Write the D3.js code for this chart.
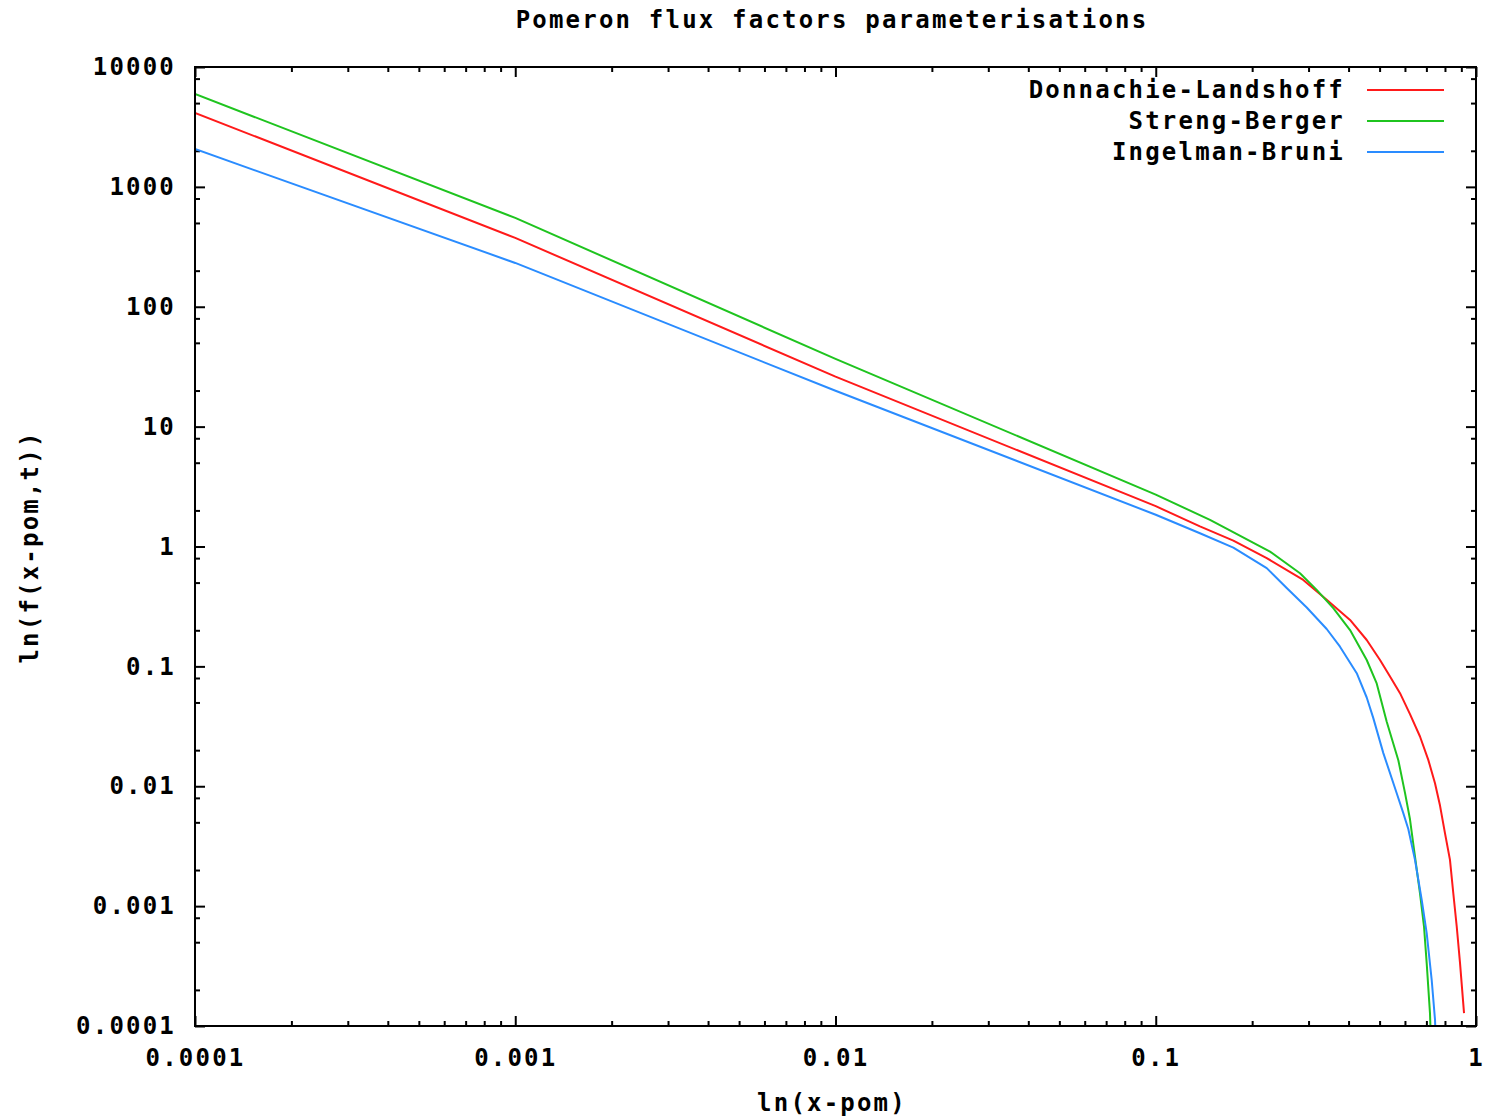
<!DOCTYPE html>
<html>
<head>
<meta charset="utf-8">
<script src="https://cdn.jsdelivr.net/npm/d3@7"></script>
<style>
	body { margin: 0; background: #fff; }
	text { font-family: "DejaVu Sans Mono", monospace; font-weight: bold; fill: #000; }
</style>
</head>
<body>
<div id="idContent"></div>
<script>
// values (x = x-pom, y = flux)
var aDlX = [0.0001, 0.001, 0.01, 0.1, 0.1374, 0.1747, 0.2221, 0.2888, 0.3418, 0.4043, 0.4558, 0.5015, 0.5389, 0.5791, 0.6221, 0.6685, 0.7096, 0.7447, 0.7720, 0.8000, 0.8293, 0.8494, 0.8706, 0.8915, 0.9175];
var aDlY = [4140, 375, 26.1, 2.17, 1.47, 1.12, 0.80, 0.526, 0.359, 0.244, 0.166, 0.113, 0.0822, 0.0598, 0.0400, 0.0260, 0.0166, 0.0106, 0.0069, 0.00406, 0.00243, 0.00128, 0.000676, 0.000335, 0.000128];

var aSbX = [0.0001, 0.001, 0.01, 0.1, 0.1477, 0.2274, 0.2821, 0.3181, 0.3584, 0.4043, 0.4558, 0.4897, 0.5263, 0.5721, 0.6002, 0.6221, 0.6449, 0.6685, 0.6881, 0.7015, 0.7183, 0.7205];
var aSbY = [5960, 551, 36.7, 2.71, 1.667, 0.906, 0.598, 0.435, 0.306, 0.201, 0.113, 0.072, 0.0345, 0.0165, 0.0088, 0.0053, 0.00259, 0.00128, 0.000676, 0.000335, 0.000128, 0.0001];

var aIbX = [0.0001, 0.001, 0.01, 0.1, 0.1374, 0.1747, 0.2221, 0.2564, 0.2961, 0.3418, 0.3761, 0.4242, 0.4558, 0.4779, 0.5136, 0.5655, 0.5929, 0.6146, 0.6449, 0.6767, 0.7015, 0.7271, 0.7447, 0.746];
var aIbY = [2070, 232, 19.9, 1.84, 1.29, 0.98, 0.66, 0.45, 0.31, 0.205, 0.146, 0.0877, 0.055, 0.037, 0.0189, 0.00875, 0.00597, 0.0044, 0.00243, 0.00113, 0.000596, 0.000243, 0.000113, 0.0001];

var aSeriesNames = ["Donnachie-Landshoff", "Streng-Berger", "Ingelman-Bruni"];
var aXTicks = [0.0001, 0.001, 0.01, 0.1, 1];
var aXTickLabels = ["0.0001", "0.001", "0.01", "0.1", "1"];
var aYTicks = [0.0001, 0.001, 0.01, 0.1, 1, 10, 100, 1000, 10000];
var aYTickLabels = ["0.0001", "0.001", "0.01", "0.1", "1", "10", "100", "1000", "10000"];
var aXMinorSteps = [2, 3, 4, 5, 6, 7, 8, 9];
var aYMinorSteps = [2, 5, 8];

var sTitle = "Pomeron flux factors parameterisations",
	sXLabel = "ln(x-pom)",
	sYLabel = "ln(f(x-pom,t))";

var aColors = ["#ff1a1a", "#1fc41f", "#2a8cff"];

function zip(aX, aY) {
	return aX.map(function (x, i) { return { x: x, y: aY[i] }; });
}

function minorTicks(aMajor, aSteps) {
	var aMinor = [];
	aMajor.slice(0, -1).forEach(function (m) {
		aSteps.forEach(function (s) { aMinor.push(m * s); });
	});
	return aMinor;
}

function createGraph() {
	var width = 1491, height = 1118;
	var margin = { top: 67, right: 15, bottom: 92, left: 195 };
	var w = width - margin.left - margin.right,
		h = height - margin.top - margin.bottom;

	var svg = d3.select("#idContent").append("svg")
		.attr("width", width)
		.attr("height", height);

	var x = d3.scaleLog().domain([0.0001, 1]).range([margin.left, margin.left + w]);
	var y = d3.scaleLog().domain([0.0001, 10000]).range([margin.top + h, margin.top]);

	var fmtX = function (d) { return aXTickLabels[aXTicks.indexOf(d)]; };
	var fmtY = function (d) { return aYTickLabels[aYTicks.indexOf(d)]; };
	var xMinor = minorTicks(aXTicks, aXMinorSteps);
	var yMinor = minorTicks(aYTicks, aYMinorSteps);

	// clip for the curves
	svg.append("clipPath").attr("id", "clip")
		.append("rect")
		.attr("x", margin.left).attr("y", margin.top)
		.attr("width", w).attr("height", h);

	// axes, ticks point inwards on every side
	function addAxis(axis, tx, ty, bLabels) {
		var g = svg.append("g")
			.attr("transform", "translate(" + tx + "," + ty + ")")
			.call(axis);
		g.select(".domain").remove();
		g.selectAll(".tick line").attr("stroke", "#000").attr("stroke-width", 2);
		g.selectAll(".tick text").style("font-size", "24px").style("letter-spacing", "2.2px");
		if (!bLabels) g.selectAll(".tick text").remove();
		return g;
	}

	addAxis(d3.axisBottom(x).tickValues(aXTicks).tickFormat(fmtX).tickSize(-10).tickPadding(23), 0, margin.top + h, true);
	addAxis(d3.axisBottom(x).tickValues(xMinor).tickSize(-5), 0, margin.top + h, false);
	addAxis(d3.axisTop(x).tickValues(aXTicks).tickSize(-10), 0, margin.top, false);
	addAxis(d3.axisTop(x).tickValues(xMinor).tickSize(-5), 0, margin.top, false);

	addAxis(d3.axisLeft(y).tickValues(aYTicks).tickFormat(fmtY).tickSize(-10).tickPadding(19), margin.left, 0, true);
	addAxis(d3.axisLeft(y).tickValues(yMinor).tickSize(-5), margin.left, 0, false);
	addAxis(d3.axisRight(y).tickValues(aYTicks).tickSize(-10), margin.left + w, 0, false);
	addAxis(d3.axisRight(y).tickValues(yMinor).tickSize(-5), margin.left + w, 0, false);

	// curves
	var line = d3.line()
		.x(function (d) { return x(d.x); })
		.y(function (d) { return y(d.y); });

	var aSeries = [zip(aDlX, aDlY), zip(aSbX, aSbY), zip(aIbX, aIbY)];
	aSeries.forEach(function (s, i) {
		svg.append("path")
			.datum(s)
			.attr("clip-path", "url(#clip)")
			.attr("fill", "none")
			.attr("stroke", aColors[i])
			.attr("stroke-width", 2)
			.attr("stroke-linejoin", "round")
			.attr("d", line);
	});

	// frame
	svg.append("rect")
		.attr("x", margin.left).attr("y", margin.top)
		.attr("width", w).attr("height", h)
		.attr("fill", "none")
		.attr("stroke", "#000")
		.attr("stroke-width", 2);

	// legend
	var legend = svg.append("g");
	aSeriesNames.forEach(function (name, i) {
		var ly = 90 + i * 31;
		legend.append("text")
			.attr("x", 1345).attr("y", ly)
			.attr("dy", "0.35em")
			.attr("text-anchor", "end")
			.style("font-size", "24px").style("letter-spacing", "2.2px")
			.text(name);
		legend.append("line")
			.attr("x1", 1367).attr("x2", 1444)
			.attr("y1", ly).attr("y2", ly)
			.attr("stroke", aColors[i])
			.attr("stroke-width", 2);
	});

	// title and axis labels
	svg.append("text")
		.attr("x", 832).attr("y", 20).attr("dy", "0.35em")
		.attr("text-anchor", "middle")
		.style("font-size", "24px").style("letter-spacing", "2.2px")
		.text(sTitle);

	svg.append("text")
		.attr("x", 832).attr("y", 1103).attr("dy", "0.35em")
		.attr("text-anchor", "middle")
		.style("font-size", "24px").style("letter-spacing", "2.2px")
		.text(sXLabel);

	svg.append("text")
		.attr("transform", "translate(30,547) rotate(-90)")
		.attr("dy", "0.35em")
		.attr("text-anchor", "middle")
		.style("font-size", "24px").style("letter-spacing", "2.2px")
		.text(sYLabel);
}

createGraph();
</script>
</body>
</html>
